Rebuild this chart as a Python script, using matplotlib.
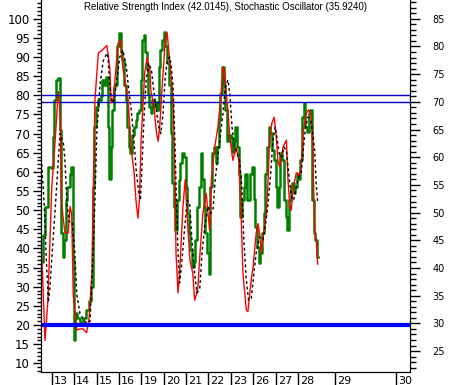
import matplotlib
matplotlib.use("Agg")
import matplotlib.pyplot as plt
from matplotlib.ticker import MultipleLocator

# x positions are trading days counted from the 13th (0 = 13th)
stoch_t = [-0.45, -0.30, -0.17, 0.00, 0.15, 0.29, 0.37, 0.45, 0.59, 0.73, 0.82, 0.89, 0.96,
           1.12, 1.26, 1.40, 1.56, 1.67, 1.79, 1.86, 1.93, 2.08, 2.29, 2.46, 2.51, 2.60, 2.65,
           2.74, 2.81, 2.96, 3.08, 3.18, 3.32, 3.41, 3.54, 3.68, 3.76, 3.85, 3.92, 3.99, 4.15,
           4.25, 4.38, 4.43, 4.57, 4.66, 4.75, 4.82, 4.97, 5.06, 5.15, 5.27, 5.42, 5.49, 5.55,
           5.64, 5.71, 5.86, 5.96, 6.05, 6.17, 6.30, 6.38, 6.46, 6.53, 6.61, 6.75, 6.90, 6.98,
           7.05, 7.13, 7.28, 7.42, 7.54, 7.65, 7.72, 7.79, 7.87, 7.95, 8.09, 8.24, 8.35, 8.46,
           8.54, 8.69, 8.76, 8.91, 8.99, 9.13, 9.21, 9.28, 9.36, 9.43, 9.58, 9.65, 9.73, 9.83,
           9.93, 10.03, 10.10, 10.18, 10.33, 10.48, 10.55, 10.63, 10.70, 10.77, 10.92, 10.99,
           11.07, 11.14, 11.22, 11.37, 11.47, 11.59, 11.66, 11.74, 11.81, 11.88]
stoch_k = [38.8, 16, 26.5, 56, 68, 81, 76, 51, 44, 44, 51, 49, 28,
           18.7, 19, 19, 18, 22, 33.5, 56, 79, 91, 92, 93, 91, 86.6, 78,
           79, 83, 93.6, 94.4, 87, 82, 78.8, 66.5, 59.7, 52.6, 47.9, 53, 68, 85.8,
           89.7, 86.6, 81, 77, 71, 68, 71.7, 85.8, 93.6, 96.5, 89, 78.8, 61, 38.8,
           28.4, 33.5, 51, 58, 48.2, 37, 33.5, 26.5, 28, 30, 37.8, 49, 54.4, 49,
           44.8, 58, 66.5, 71.7, 78.8, 87.4, 86, 80.6, 76, 69, 63, 66.5, 63, 48.2,
           33.5, 24, 23.5, 31.8, 35, 44, 46.5, 44, 38.8, 43, 49, 56, 68.3, 72.7,
           74.3, 69, 63, 61.3, 66.5, 68.3, 58, 51, 50, 55.3, 59.7, 59.7,
           59, 61.3, 70, 75.3, 76.2, 75, 65.7, 44.8, 42.2, 35.924]

stoch_d_t = [-0.45, -0.34, -0.25, -0.15, -0.08, 0.01, 0.15, 0.28, 0.37, 0.52, 0.59, 0.67, 0.77,
             0.91, 1.02, 1.12, 1.26, 1.41, 1.56, 1.71, 1.83, 1.93, 2.01, 2.16, 2.30, 2.46, 2.51,
             2.59, 2.66, 2.74, 2.81, 2.88, 3.04, 3.18, 3.33, 3.44, 3.55, 3.68, 3.78, 3.89, 3.96,
             4.03, 4.12, 4.22, 4.33, 4.45, 4.57, 4.67, 4.78, 4.87, 4.97, 5.07, 5.16, 5.27, 5.34,
             5.42, 5.49, 5.56, 5.64, 5.71, 5.79, 5.94, 6.05, 6.16, 6.26, 6.38, 6.49, 6.61, 6.71,
             6.83, 6.98, 7.10, 7.20, 7.30, 7.42, 7.54, 7.65, 7.75, 7.87, 7.96, 8.05, 8.17, 8.29,
             8.39, 8.49, 8.58, 8.69, 8.79, 8.91, 9.03, 9.13, 9.28, 9.43, 9.53, 9.65, 9.78, 9.88,
             9.98, 10.07, 10.18, 10.28, 10.37, 10.48, 10.58, 10.70, 10.80, 10.92, 11.03, 11.14,
             11.22, 11.32, 11.44, 11.56, 11.66, 11.74, 11.81, 11.88]
stoch_d = [62, 52, 38, 26, 30, 38, 50, 62, 70, 67.5, 63, 52.6, 47,
           47, 40, 28, 23, 21.5, 20.5, 21, 37, 52.6, 70, 83, 89, 91, 90,
           83, 79, 78, 79.5, 83, 90, 91.8, 87.4, 81.4, 76.2, 67.5, 59.7, 54.4, 52.6,
           61.3, 74.3, 84, 88.4, 86.6, 80.6, 76.2, 71.7, 70, 75.3, 84.8, 89.2, 90, 87.4,
           82.2, 70, 54.4, 38.8, 31, 35.2, 45.6, 52.6, 52, 42.2, 33.5, 28.4, 29.5, 38.8,
           45.6, 51, 49.2, 50, 58, 64, 70, 75.3, 82.2, 84, 80, 71.7, 66.5, 64.8,
           63, 56, 42.2, 31.8, 26.5, 27, 33.5, 38.8, 43, 42.2, 45.6, 51, 59.7, 68.3,
           71.7, 68.3, 64, 64, 66.5, 65.5, 59.7, 53.5, 52.6, 56, 58.7, 59.7,
           64.8, 71, 74.3, 73.5, 70, 65.7, 57, 52]

rsi_t = [-0.45, -0.37, -0.22, -0.08, 0.00, 0.07, 0.15, 0.25, 0.33, 0.37, 0.45, 0.52, 0.59,
         0.64, 0.74, 0.85, 0.91, 0.96, 1.01, 1.09, 1.20, 1.34, 1.49, 1.59, 1.71, 1.79, 1.86,
         1.93, 2.01, 2.16, 2.23, 2.30, 2.38, 2.46, 2.53, 2.59, 2.66, 2.74, 2.81, 2.88, 2.96,
         3.04, 3.11, 3.18, 3.26, 3.33, 3.41, 3.48, 3.55, 3.63, 3.71, 3.78, 3.85, 3.93, 4.00,
         4.08, 4.15, 4.22, 4.27, 4.33, 4.38, 4.45, 4.52, 4.60, 4.67, 4.75, 4.82, 4.89, 4.97,
         5.04, 5.12, 5.19, 5.27, 5.34, 5.42, 5.49, 5.56, 5.64, 5.71, 5.79, 5.86, 5.94, 6.01,
         6.08, 6.16, 6.23, 6.30, 6.38, 6.46, 6.53, 6.61, 6.68, 6.76, 6.83, 6.90, 6.98, 7.05,
         7.13, 7.20, 7.28, 7.35, 7.42, 7.50, 7.57, 7.65, 7.72, 7.79, 7.87, 7.95, 8.02, 8.09,
         8.17, 8.24, 8.32, 8.39, 8.46, 8.54, 8.61, 8.69, 8.76, 8.84, 8.91, 8.99, 9.06, 9.13,
         9.21, 9.28, 9.36, 9.43, 9.51, 9.58, 9.65, 9.73, 9.80, 9.88, 9.96, 10.03, 10.10, 10.18,
         10.25, 10.33, 10.40, 10.48, 10.55, 10.63, 10.70, 10.77, 10.85, 10.92, 10.99, 11.07,
         11.14, 11.22, 11.29, 11.37, 11.44, 11.52, 11.59, 11.66, 11.74, 11.81, 11.88]
rsi = [41, 46, 51, 58.2, 58, 63.6, 70.3, 73.9, 74.3, 65, 46.3, 42, 45,
       52.3, 54.6, 57, 58.2, 41.4, 27, 31.9, 31, 30, 31, 32.4, 34, 36.6, 54.6,
       65.5, 69, 70.3, 71, 74, 73, 74.5, 65.5, 56, 61.8, 68.5, 72.7, 73, 80,
       82.4, 79, 77.5, 73, 70.3, 65.5, 61.8, 60.7, 64, 65.5, 66.7, 68, 68.5, 74,
       81.2, 82, 79, 76, 71.5, 69, 68, 70.3, 69, 70, 68.5, 76.3, 79.3, 81.2,
       82.6, 80, 77, 73, 64.3, 55.3, 51, 46.8, 52.3, 55.8, 59, 60.7, 60, 54.6,
       50, 46.3, 43.3, 40.2, 41, 45, 51, 54.6, 60.7, 56, 51, 46.3, 42.7, 39,
       54.6, 60.7, 61.8, 59, 61.8, 66.7, 71.5, 76.3, 73, 68.5, 63, 64, 63.6, 61,
       63, 65.5, 61.8, 57, 49.2, 52.3, 54.6, 57, 52.3, 52.3, 57, 58.2, 52.5, 47.4,
       43.8, 40.9, 42.7, 46.3, 50, 57, 61.8, 65.5, 64.3, 61.3, 59.5, 54.6, 51, 54.6,
       60.7, 59.5, 52.3, 49.2, 46.8, 52.3, 54.6, 55.3, 53.5, 54.6, 57, 56,
       59.5, 67.3, 69.8, 65.5, 64.5, 68, 68.5, 52.3, 46.3, 45, 42.0145]

day_pos = [0, 1, 2, 3, 4, 5, 6, 7, 8, 9, 10, 11, 12.63, 15.38]
day_labels = ["13", "14", "15", "16", "19", "20", "21", "22", "23", "26", "27", "28", "29", "30"]
left_ticks = list(range(10, 101, 5))
right_ticks = list(range(25, 86, 5))

fig = plt.figure(figsize=(4.51, 3.85), dpi=100)
ax = fig.add_axes([41 / 451, 13 / 385, 369 / 451, 372 / 385])
ax2 = ax.twinx()

# RSI on the right scale, drawn behind the stochastic lines
ax2.plot(rsi_t, rsi, color="#008000", lw=1.8, drawstyle="steps-mid")
ax2.axhline(70, color="#0000c8", lw=1)
ax2.set_ylim(21.23, 88.38)

ax.plot(stoch_t, stoch_k, color="#ff0000", lw=1)
ax.plot(stoch_d_t, stoch_d, color="black", lw=1, ls=(0, (2, 2)))
ax.axhline(80, color="#0000c8", lw=1)
ax.axhline(20, color="#0000ff", lw=3)
ax.set_ylim(7.75, 104.88)
ax.set_xlim(-0.48, 16.0)

ax.set_zorder(ax2.get_zorder() + 1)
ax.patch.set_visible(False)

for a in (ax, ax2):
    a.spines["top"].set_visible(False)

ax.set_yticks(left_ticks)
ax.yaxis.set_minor_locator(MultipleLocator(1))
ax.tick_params(axis="y", which="major", length=6, width=1, pad=2, labelsize=8.5)
ax.tick_params(axis="y", which="minor", length=3, width=1)

ax2.set_yticks(right_ticks)
ax2.yaxis.set_minor_locator(MultipleLocator(1))
ax2.tick_params(axis="y", which="major", length=7, width=1, pad=9, labelsize=7)
ax2.tick_params(axis="y", which="minor", length=4, width=1)

ax.set_xticks(day_pos)
ax.set_xticklabels([])
ax.tick_params(axis="x", which="major", length=13, width=1)
for p, lbl in zip(day_pos, day_labels):
    ax.annotate(lbl, (p, 0), xycoords=("data", "axes fraction"), xytext=(1.5, -8.6),
                textcoords="offset points", ha="left", va="baseline", fontsize=8)

ax.text(0.5, 0.995, "Relative Strength Index (42.0145), Stochastic Oscillator (35.9240)",
        transform=ax.transAxes, ha="center", va="top", fontsize=7,
        family="Liberation Sans")

fig.savefig("out.png", dpi=100)
